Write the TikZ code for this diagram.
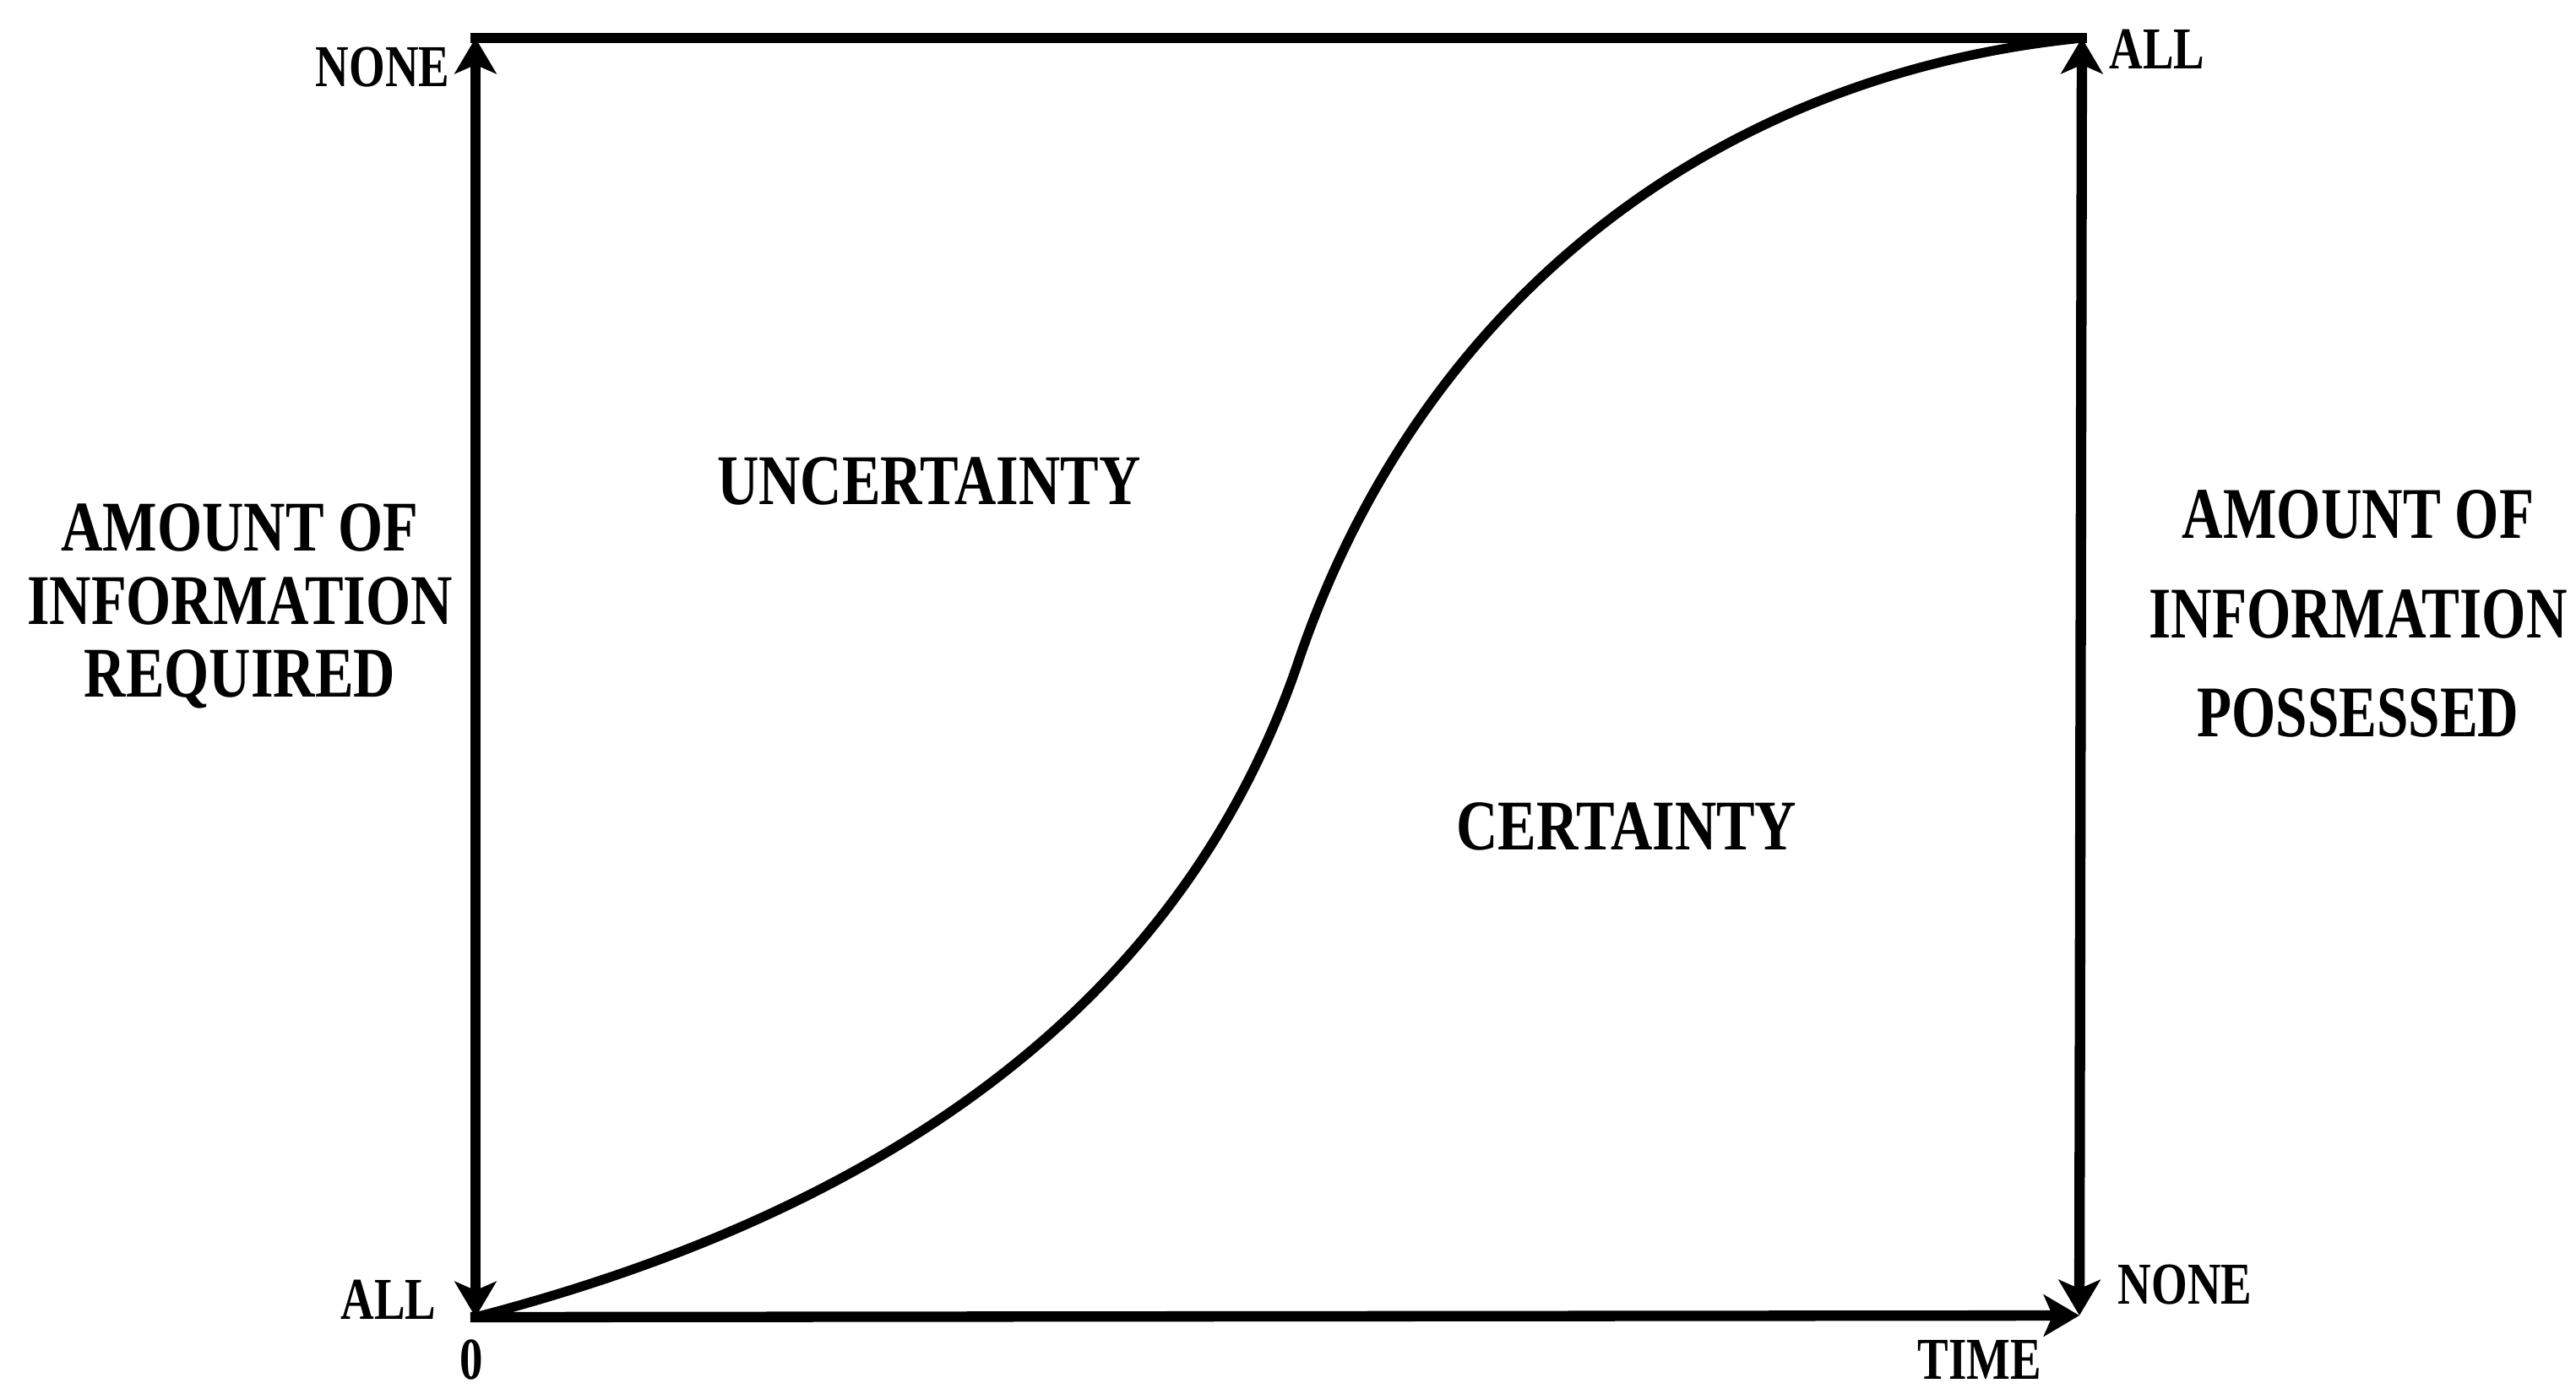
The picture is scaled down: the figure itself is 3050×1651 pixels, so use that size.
\documentclass[tikz,border=0pt]{standalone}
\usepackage{fontspec}
\usetikzlibrary{arrows.meta}

\newfontfamily\diagfont[FakeStretch=0.81]{Liberation Serif}
\newfontfamily\possfont[FakeStretch=0.78]{Liberation Serif}
\newfontfamily\tickfont[FakeStretch=0.78]{Liberation Serif}

\begin{document}
\begin{tikzpicture}[
  x=0.01cm, y=-0.01cm,
  >={Stealth[length=12pt, width=14pt, inset=3pt]},
  every node/.style={inner sep=0pt, align=center},
  axisline/.style={line width=3.5pt, line cap=rect},
  curveline/.style={line width=3.2pt, line cap=round},
  ticklabel/.style={font=\tickfont\bfseries\fontsize{20}{22}\selectfont},
  region/.style={font=\diagfont\bfseries\fontsize{24}{26}\selectfont},
  reqlabel/.style={font=\diagfont\bfseries\fontsize{24}{24.7}\selectfont},
  poslabel/.style={font=\possfont\bfseries\fontsize{24.5}{33.5}\selectfont}
]
\useasboundingbox (0,0) rectangle (3050,1651);

% Corners
\coordinate (O) at (563,1560);
\coordinate (TL) at (563,45);
\coordinate (TR) at (2465,45);
\coordinate (BR) at (2462,1558);
\coordinate (I) at (1535,790);

% Axes
\draw[axisline] (TL) -- (TR);
\draw[axisline, <->] (O) -- (TL);
\draw[axisline, ->] (O) -- (BR);
\draw[axisline, <->] (BR) -- (TR);

% S-curve
\draw[curveline] (O) .. controls (1063,1430) and (1400,1180) .. (I)
  .. controls (1675,370) and (2015,90) .. (TR);

% Axis ends
\node[ticklabel, anchor=east] (none_req) at (533,80) {NONE};
\node[ticklabel, anchor=east] (all_req) at (517,1539) {ALL};
\node[ticklabel, anchor=west] (all_pos) at (2497,58) {ALL};
\node[ticklabel, anchor=west] (none_pos) at (2507,1522) {NONE};
\node[ticklabel] (zero) at (558,1610) {0};
\node[ticklabel] (time) at (2344,1610) {TIME};

% Regions
\node[region] (uncertain) at (1100,570) {UNCERTAINTY};
\node[region] (certain) at (1926,979) {CERTAINTY};

% Side labels
\node[reqlabel] (required) at (284,718) {AMOUNT OF\\INFORMATION\\REQUIRED};
\node[poslabel] (possessed) at (2792,727) {AMOUNT OF\\INFORMATION\\POSSESSED};

\end{tikzpicture}
\end{document}
